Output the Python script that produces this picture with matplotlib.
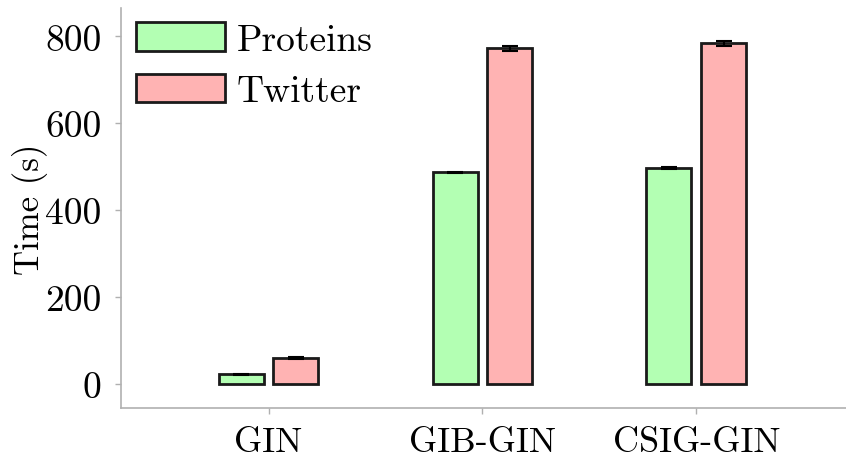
import matplotlib
matplotlib.use('Agg')
import matplotlib.pyplot as plt
import numpy as np

# 数据
models = ['GIN', 'GIB-GIN', 'CSIG-GIN']
proteins = [22, 487, 497]
twitter = [60, 773, 784]
proteins_err = [1.5, 2, 2]
twitter_err = [2, 6, 5]
yticks = [0, 200, 400, 600, 800]

plt.rcParams['font.family'] = ['cmr10', 'DejaVu Serif']
plt.rcParams['axes.formatter.use_mathtext'] = True
plt.rcParams['mathtext.fontset'] = 'cm'

fs = 27

fig = plt.figure(figsize=(8.46, 4.6), dpi=100)
ax = fig.add_axes([0.143, 0.111, 0.857, 0.869])

x = np.arange(len(models))
w = 0.21
off = 0.128
err_kw = dict(ecolor='black', capsize=6, elinewidth=1.5, capthick=1.5)
ax.bar(x - off, proteins, w, yerr=proteins_err, color='#b3ffb3',
       edgecolor='#1a1a1a', linewidth=2, label='Proteins', error_kw=err_kw)
ax.bar(x + off, twitter, w, yerr=twitter_err, color='#ffb3b3',
       edgecolor='#1a1a1a', linewidth=2, label='Twitter', error_kw=err_kw)

ax.set_xlim(-0.69, 2.70)
ax.set_ylim(-55, 865)
ax.set_xticks(x)
ax.set_xticklabels(models, fontsize=26)
ax.set_yticks(yticks)
ax.set_yticklabels([str(t) for t in yticks], fontsize=fs)
ax.set_ylabel('Time (s)', fontsize=25)
ax.yaxis.set_label_coords(-0.1, 0.5)

for s in ['top', 'right']:
    ax.spines[s].set_visible(False)
for s in ['left', 'bottom']:
    ax.spines[s].set_color('#b0b0b0')
    ax.spines[s].set_linewidth(1.2)
ax.tick_params(axis='both', color='#b0b0b0', length=4, width=1)
ax.tick_params(axis='x', pad=9)
ax.tick_params(axis='y', pad=10)

ax.legend(loc='upper left', bbox_to_anchor=(-0.015, 1.03), frameon=False,
          fontsize=fs, handlelength=2.37, handleheight=0.8,
          labelspacing=0.45, handletextpad=0.3, borderaxespad=0.3)

fig.savefig('out.png', dpi=100)
